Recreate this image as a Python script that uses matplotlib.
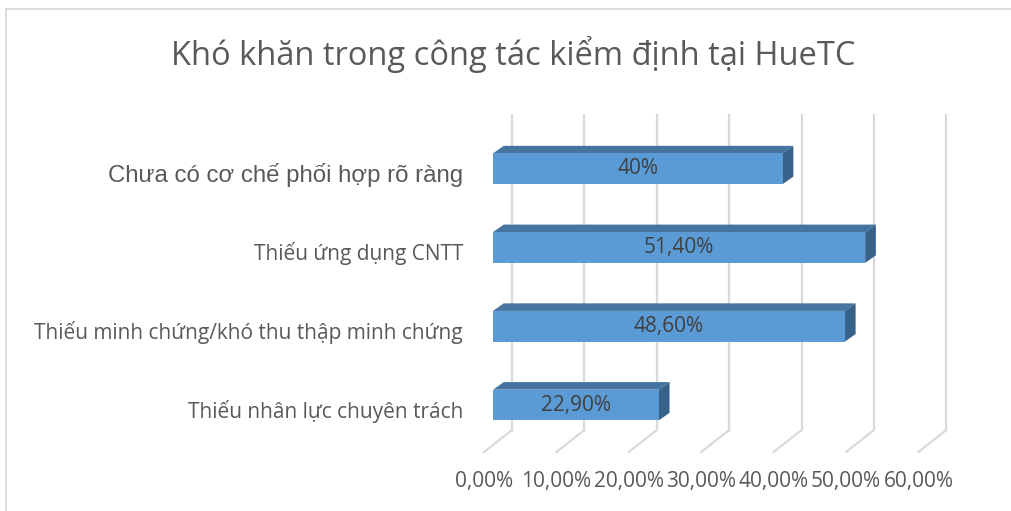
import numpy as np
import matplotlib.pyplot as plt
from matplotlib.lines import Line2D

# data (bottom -> top, as drawn)
categories = ['Thiếu nhân lực chuyên trách',
              'Thiếu minh chứng/khó thu thập minh chứng',
              'Thiếu ứng dụng CNTT',
              'Chưa có cơ chế phối hợp rõ ràng']
values = [22.9, 48.6, 51.4, 40.0]
value_labels = ['22,90%', '48,60%', '51,40%', '40%']
ticks = [0, 10, 20, 30, 40, 50, 60]
tick_labels = ['0,00%', '10,00%', '20,00%', '30,00%', '40,00%', '50,00%', '60,00%']
title = 'Khó khăn trong công tác kiểm định tại HueTC'

# colours / fake 3d geometry (data units)
front_c = '#5B9BD5'
top_c = '#44749F'
side_c = '#37628A'
grid_c = '#D9D9D9'
text_c = '#595959'
bar_h = 0.39
dx, dy = 1.48, 0.096        # bar depth
back_dx = 2.62              # back wall offset
front_dx = -1.24            # front floor edge offset
floor_back, floor_front, wall_top = -0.317, -0.596, 3.68

fig = plt.figure(figsize=(10.11, 5.11), dpi=100)
ax = fig.add_axes([480 / 1011, 11 / 511, 480 / 1011, 410 / 511])
ax.set_xlim(-1.80, 64.5)
ax.set_ylim(-1.206, 4.0)
ax.axis('off')

# back wall gridlines + floor diagonals
for t in ticks:
    ax.plot([t + back_dx, t + back_dx], [floor_back, wall_top], color=grid_c, lw=1.6, zorder=1)
    ax.plot([t + back_dx, t + front_dx], [floor_back, floor_front], color=grid_c, lw=1.6, zorder=1)

y = np.arange(len(categories))
for yi, v, lab, cat in zip(y, values, value_labels, categories):
    top = yi + bar_h / 2
    bot = yi - bar_h / 2
    ax.fill([0, v, v + dx, dx], [top, top, top + dy, top + dy], color=top_c, zorder=2, lw=0)
    ax.fill([v, v + dx, v + dx, v], [bot, bot + dy, top + dy, top], color=side_c, zorder=2, lw=0)
    ax.text(v / 2, yi, lab, ha='center', va='center', fontsize=15,
            family='Open Sans', color='#404040', zorder=4)
    if yi == len(categories) - 1:
        fam, fs = 'Liberation Sans', 17.3
    else:
        fam, fs = 'Open Sans', 15
    ax.text(-4.14, yi - 0.08, cat, ha='right', va='center', fontsize=fs,
            family=fam, color=text_c, clip_on=False)

ax.barh(y, values, height=bar_h, color=front_c, zorder=3)

for t, tl in zip(ticks, tick_labels):
    ax.text(t + front_dx, -0.965, tl, ha='center', va='center', fontsize=15,
            family='Open Sans', color=text_c, clip_on=False)

fig.text(513 / 1011, 1 - 55 / 511, title, ha='center', va='center', fontsize=23.5,
         family='Open Sans', color=text_c)

# chart border (only left and top edges visible)
fig.add_artist(Line2D([6 / 1011, 6 / 1011], [0, 1 - 9 / 511], transform=fig.transFigure,
                      color='#D9D9D9', lw=1.3))
fig.add_artist(Line2D([6 / 1011, 1], [1 - 9 / 511, 1 - 9 / 511], transform=fig.transFigure,
                      color='#D9D9D9', lw=1.3))

fig.savefig('out.png', dpi=100)
